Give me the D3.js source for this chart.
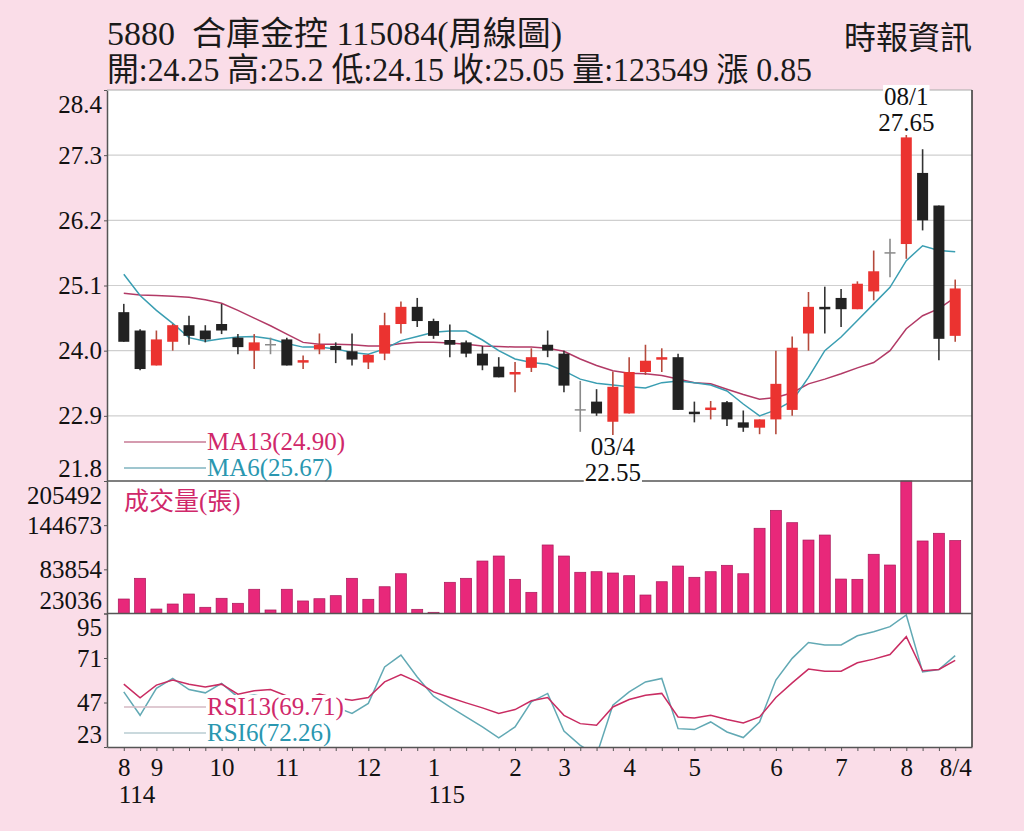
<!DOCTYPE html>
<html>
<head>
<meta charset="utf-8">
<script src="https://cdn.jsdelivr.net/npm/d3@7"></script>
<style>
  body { margin: 0; background: #fadde8; }
  svg { display: block; }
  text { font-family: "Liberation Serif", "Noto Sans CJK TC", serif; }
</style>
</head>
<body>
<div id="chart"></div>
<script>
// weekly candles, 114/08 .. 115/08 (week 4)
var months = ["8","9","10","11","12","1","2","3","4","5","6","7","8"];
var weeksPerMonth = [2,4,4,5,4,5,3,4,4,5,4,4,4];
var yearLabels = ["114","115"];
var yearMonthIdx = [0,5];
var lastLabel = "8/4";

var openP  = [24.65,24.34,23.75,24.15,24.43,24.34,24.45,24.22,24.00,24.10,24.19,23.80,24.02,24.08,23.99,23.80,23.95,24.45,24.74,24.50,24.18,24.14,23.95,23.73,23.61,23.71,24.10,23.95,23.00,23.14,22.80,22.94,23.64,23.85,23.89,22.97,23.00,23.13,22.79,22.70,22.84,23.00,24.29,24.74,24.89,24.70,25.00,25.65,25.80,27.00,26.45,24.25];
var highP  = [24.79,24.36,24.34,24.45,24.59,24.43,24.79,24.28,24.28,24.22,24.22,23.92,24.29,24.14,24.29,23.94,24.64,24.83,24.89,24.54,24.44,24.17,24.08,23.89,23.81,24.04,24.34,24.00,23.49,23.35,23.65,23.89,24.10,24.04,23.95,23.14,23.15,23.15,22.99,22.84,24.00,24.24,24.99,25.08,25.04,25.17,25.69,25.89,27.65,27.40,26.45,25.20];
var lowP   = [24.15,23.67,23.75,24.00,24.10,24.14,24.28,23.94,23.69,23.94,23.75,23.69,23.94,23.79,23.75,23.69,23.84,24.29,24.40,24.20,23.89,23.89,23.67,23.55,23.30,23.64,23.89,23.30,22.63,22.90,22.55,22.94,23.59,23.64,23.00,22.79,22.84,22.73,22.63,22.59,22.59,22.90,24.00,24.29,24.40,24.70,24.85,25.24,25.55,26.03,23.84,24.15];
var closeP = [24.15,23.69,24.19,24.43,24.25,24.19,24.34,24.06,24.14,24.10,23.75,23.84,24.10,24.01,23.85,23.93,24.43,24.74,24.50,24.25,24.10,23.95,23.75,23.55,23.64,23.89,24.00,23.41,23.00,22.94,23.39,23.64,23.83,23.89,23.00,22.95,23.04,22.84,22.70,22.84,23.44,24.05,24.74,24.70,24.70,25.13,25.34,25.65,27.60,26.20,24.20,25.05];
var volume = [43000,71500,29200,36100,49900,31600,44000,37100,56400,27900,56400,40300,43400,47600,71500,42600,59900,77800,28800,24700,66000,71500,95300,102200,70100,52200,117400,102200,79800,80600,78800,75100,48500,66800,88400,72900,80600,89400,77800,140400,165100,148100,124200,131100,70500,70100,104600,89800,205492,122900,133500,123549];
var ma13 = [24.97,24.94,24.93,24.92,24.90,24.86,24.80,24.68,24.55,24.42,24.28,24.14,24.11,24.11,24.10,24.08,24.08,24.12,24.14,24.14,24.13,24.11,24.08,24.07,24.06,24.06,24.04,23.99,23.86,23.75,23.66,23.62,23.61,23.58,23.52,23.46,23.44,23.35,23.26,23.18,23.21,23.29,23.44,23.52,23.61,23.71,23.80,24.00,24.37,24.59,24.71,24.90];
var ma6  = [25.29,24.93,24.68,24.46,24.22,24.16,24.20,24.23,24.24,24.20,24.12,24.06,24.06,24.03,23.97,23.94,24.03,24.17,24.24,24.31,24.33,24.33,24.18,24.00,23.86,23.80,23.77,23.66,23.52,23.45,23.42,23.39,23.37,23.46,23.49,23.46,23.42,23.32,23.10,22.90,23.00,23.15,23.55,24.00,24.23,24.51,24.79,25.07,25.52,25.77,25.69,25.67];
var rsi13 = [56.9,49.5,56.4,59.1,56.9,55.4,56.9,51.5,53.3,54.0,50.5,48.0,51.5,49.5,48.2,49.7,58.1,62.1,58.1,52.7,49.7,46.8,44.1,41.1,43.2,47.9,49.7,40.1,35.6,34.7,44.6,48.6,50.9,51.9,39.2,38.7,40.1,37.8,36.0,39.2,49.7,57.6,65.0,63.9,63.9,68.4,70.4,72.9,82.5,64.1,64.8,69.71];
var rsi6  = [52.7,40.1,54.6,60.0,54.0,52.2,57.3,49.9,51.0,49.3,41.8,39.6,47.2,44.5,41.1,46.5,66.2,72.6,60.8,50.4,44.6,39.2,33.8,27.9,33.8,47.3,51.9,31.6,23.9,18.5,45.5,52.7,58.1,60.0,32.9,32.4,36.5,31.1,28.1,36.5,59.1,70.8,79.4,78.0,78.0,83.0,85.2,87.9,94.2,63.5,64.8,72.26];

var priceTicks = [28.4,27.3,26.2,25.1,24.0,22.9,21.8];
var volTicks = [205492,144673,83854,23036];
var rsiTicks = [95,71,47,23];

var title1 = "5880  合庫金控 115084(周線圖)";
var title2 = "開:24.25 高:25.2 低:24.15 收:25.05 量:123549 漲 0.85";
var source = "時報資訊";

// panel geometry
var L = 107, R = 972, T = 90, PB = 481, VB = 613.5, B = 747;

// week keys + which week gets a month label
var weeks = [], monthLabel = {};
months.forEach(function(m, mi) {
  for (var k = 0; k < weeksPerMonth[mi]; k++) {
    var key = mi + "-" + k;
    weeks.push(key);
    if (k === 0) monthLabel[key] = m;
  }
});
monthLabel[weeks[weeks.length - 1]] = lastLabel;
var idx = d3.range(weeks.length);

var x = d3.scalePoint().domain(weeks).range([L, R]).padding(1.03);
var yP = d3.scaleLinear().domain([21.8, 28.4]).range([PB, T]);
var yV = d3.scaleLinear().domain([23036, 205492]).range([VB, PB]);
var yR = d3.scaleLinear().domain([23, 95]).range([B, VB]);
function X(i) { return x(weeks[i]); }

var svg = d3.select("#chart").append("svg").attr("width", 1024).attr("height", 831);
svg.append("rect").attr("width", 1024).attr("height", 831).attr("fill", "#fadde8");
svg.append("rect").attr("x", L).attr("y", T).attr("width", R - L).attr("height", B - T).attr("fill", "#fff");

// price grid
svg.append("g").selectAll("line").data(priceTicks.slice(1, -1)).join("line")
  .attr("x1", L).attr("x2", R)
  .attr("y1", function(d) { return yP(d); }).attr("y2", function(d) { return yP(d); })
  .attr("stroke", "#cfcfcf").attr("stroke-width", 1.2);

// volume bars
svg.append("g").selectAll("rect").data(idx).join("rect")
  .attr("x", function(i) { return X(i) - 5.5; })
  .attr("y", function(i) { return yV(volume[i]); })
  .attr("width", 11)
  .attr("height", function(i) { return VB - yV(volume[i]); })
  .attr("fill", "#e8287a").attr("stroke", "#a8185a").attr("stroke-width", 0.7);

// moving averages
var lineP = function(arr) { return d3.line().x(function(d, i) { return X(i); }).y(function(d) { return yP(d); })(arr); };
svg.append("path").attr("d", lineP(ma13)).attr("fill", "none").attr("stroke", "#b23a66").attr("stroke-width", 1.5);
svg.append("path").attr("d", lineP(ma6)).attr("fill", "none").attr("stroke", "#3a9eb2").attr("stroke-width", 1.5);

// candles
var candle = svg.append("g").selectAll("g").data(idx).join("g");
function isDoji(i) { return openP[i] === closeP[i]; }
function isUp(i) { return closeP[i] > openP[i]; }
candle.append("line")
  .attr("x1", X).attr("x2", X)
  .attr("y1", function(i) { return yP(highP[i]); })
  .attr("y2", function(i) { return yP(lowP[i]); })
  .attr("stroke", function(i) { return isDoji(i) ? "#8a8a8a" : isUp(i) ? "#b54a3c" : "#333"; })
  .attr("stroke-width", 1.6);
candle.filter(function(i) { return !isDoji(i); }).append("rect")
  .attr("x", function(i) { return X(i) - 5.5; })
  .attr("y", function(i) { return yP(Math.max(openP[i], closeP[i])); })
  .attr("width", 11)
  .attr("height", function(i) { return Math.max(2.5, Math.abs(yP(openP[i]) - yP(closeP[i]))); })
  .attr("fill", function(i) { return isUp(i) ? "#eb3330" : "#222"; });
candle.filter(isDoji).append("line")
  .attr("x1", function(i) { return X(i) - 5.5; }).attr("x2", function(i) { return X(i) + 5.5; })
  .attr("y1", function(i) { return yP(closeP[i]); }).attr("y2", function(i) { return yP(closeP[i]); })
  .attr("stroke", "#8a8a8a").attr("stroke-width", 1.5);

// RSI lines, clipped to their panel
svg.append("clipPath").attr("id", "rsiClip").append("rect")
  .attr("x", L).attr("y", VB).attr("width", R - L).attr("height", B - VB);
var lineR = function(arr) { return d3.line().x(function(d, i) { return X(i); }).y(function(d) { return yR(d); })(arr); };
var rsiG = svg.append("g").attr("clip-path", "url(#rsiClip)");
rsiG.append("path").attr("d", lineR(rsi6)).attr("fill", "none").attr("stroke", "#62a9b4").attr("stroke-width", 1.5);
rsiG.append("path").attr("d", lineR(rsi13)).attr("fill", "none").attr("stroke", "#c92c62").attr("stroke-width", 1.5);

// text with white box behind it
function boxedText(txt, tx, ty, color, anchor, size) {
  var g = svg.append("g");
  var t = g.append("text").attr("x", tx).attr("y", ty)
    .attr("text-anchor", anchor || "start")
    .attr("font-size", size || 25)
    .attr("fill", color).text(txt);
  var b = t.node().getBBox();
  g.insert("rect", function() { return t.node(); })
    .attr("x", b.x - 1).attr("y", b.y + 2).attr("width", b.width + 2).attr("height", b.height - 3)
    .attr("fill", "#fff");
  return t;
}

// legends
function legend(txt, ly, textColor, lineColor) {
  svg.append("line").attr("x1", 124).attr("x2", 207).attr("y1", ly).attr("y2", ly)
    .attr("stroke", lineColor).attr("stroke-width", 1.5);
  boxedText(txt, 207, ly + 8, textColor);
}
legend("MA13(24.90)", 442, "#d0286a", "#c77a95");
legend("MA6(25.67)", 468, "#2a97b0", "#7fb3bf");
legend("RSI13(69.71)", 707, "#d0286a", "#d5b9c3");
legend("RSI6(72.26)", 733, "#2a97b0", "#b9cdd2");

svg.append("text").attr("x", 124).attr("y", 510).attr("font-size", 25)
  .attr("font-family", "Noto Sans CJK TC").attr("fill", "#d0286a").text("成交量(張)");

// left axes
function leftAxis(scale, ticks, fmt) {
  var g = svg.append("g").attr("transform", "translate(" + L + ",0)")
    .call(d3.axisLeft(scale).tickValues(ticks).tickSize(3).tickSizeOuter(0).tickPadding(2).tickFormat(fmt));
  g.select(".domain").attr("stroke", "#555").attr("stroke-width", 1.5);
  g.selectAll(".tick line").attr("stroke", "#555");
  g.selectAll("text").attr("font-size", 25).attr("fill", "#111")
    .attr("font-family", "Liberation Serif");
  var n = ticks.length;
  g.selectAll(".tick text").attr("dy", function(d, i) {
    return i === 0 ? "0.88em" : i === n - 1 ? "-0.2em" : "0.32em";
  });
}
leftAxis(yP, priceTicks, d3.format(".1f"));
leftAxis(yV, volTicks, d3.format("d"));
leftAxis(yR, rsiTicks, d3.format("d"));

// borders and panel separators
svg.append("line").attr("x1", L).attr("x2", R).attr("y1", T).attr("y2", T).attr("stroke", "#aaa");
svg.append("line").attr("x1", R).attr("x2", R).attr("y1", T).attr("y2", B).attr("stroke", "#333").attr("stroke-width", 1.5);
[PB, VB].forEach(function(yy) {
  svg.append("line").attr("x1", L).attr("x2", R).attr("y1", yy).attr("y2", yy)
    .attr("stroke", "#555").attr("stroke-width", 1.6);
});

// bottom axis
var xa = svg.append("g").attr("transform", "translate(0," + B + ")")
  .call(d3.axisBottom(x).tickSize(4).tickSizeOuter(0).tickPadding(7)
    .tickFormat(function(w) { return monthLabel[w] || ""; }));
xa.select(".domain").attr("stroke", "#555").attr("stroke-width", 1.5);
xa.selectAll(".tick line").attr("stroke", "#555");
xa.selectAll("text").attr("font-size", 25).attr("fill", "#111").attr("font-family", "Liberation Serif");

svg.append("g").selectAll("text").data(yearLabels).join("text")
  .attr("x", function(d, i) { return x(yearMonthIdx[i] + "-0") - 5; })
  .attr("y", 803)
  .attr("font-size", 25).attr("fill", "#111").text(function(d) { return d; });

// high / low marks
var hiI = d3.maxIndex(highP), loI = d3.minIndex(lowP);
boxedText("08/1", X(hiI), 105, "#111", "middle");
boxedText(d3.format(".2f")(highP[hiI]), X(hiI), 131, "#111", "middle");
boxedText("03/4", X(loI), 455, "#111", "middle");
boxedText(d3.format(".2f")(lowP[loI]), X(loI), 481, "#111", "middle");

// header
svg.append("text").attr("x", 107).attr("y", 45).attr("font-size", 33).attr("fill", "#1a1a1a")
  .style("white-space", "pre")
  .attr("textLength", 455).attr("lengthAdjust", "spacingAndGlyphs").text(title1);
svg.append("text").attr("x", 107).attr("y", 81).attr("font-size", 33).attr("fill", "#1a1a1a")
  .attr("textLength", 705).attr("lengthAdjust", "spacingAndGlyphs").text(title2);
svg.append("text").attr("x", 972).attr("y", 49).attr("font-size", 32).attr("text-anchor", "end")
  .attr("font-family", "Noto Sans CJK TC").attr("fill", "#1a1a1a").text(source);
</script>
</body>
</html>
